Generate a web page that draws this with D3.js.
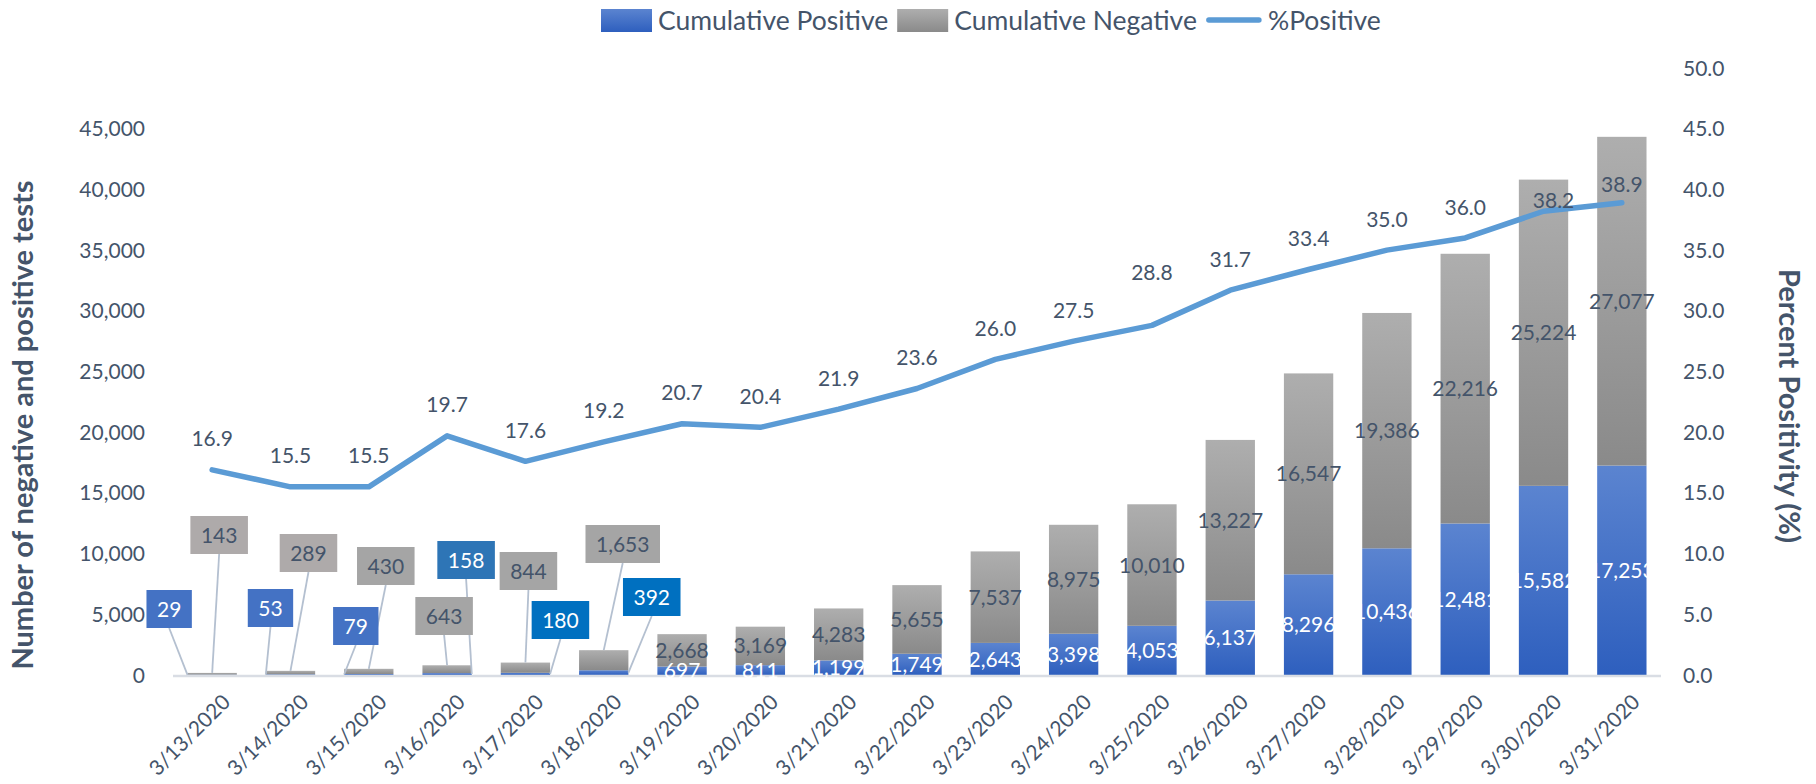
<!DOCTYPE html>
<html>
<head>
<meta charset="utf-8">
<script src="https://cdn.jsdelivr.net/npm/d3@7"></script>
<style>
  html, body { margin: 0; padding: 0; background: #fff; }
  svg text { font-family: Lato, "Open Sans", sans-serif; fill: #44546A; }
</style>
</head>
<body>
<svg id="chart" width="1816" height="784"></svg>
<script>
// cumulative test results by day
var dates = ["3/13/2020", "3/14/2020", "3/15/2020", "3/16/2020", "3/17/2020", "3/18/2020",
  "3/19/2020", "3/20/2020", "3/21/2020", "3/22/2020", "3/23/2020", "3/24/2020", "3/25/2020",
  "3/26/2020", "3/27/2020", "3/28/2020", "3/29/2020", "3/30/2020", "3/31/2020"];
var positive = [29, 53, 79, 158, 180, 392, 697, 811, 1199, 1749, 2643, 3398, 4053,
  6137, 8296, 10436, 12481, 15582, 17253];
var negative = [143, 289, 430, 643, 844, 1653, 2668, 3169, 4283, 5655, 7537, 8975, 10010,
  13227, 16547, 19386, 22216, 25224, 27077];
var pctPositive = [16.9, 15.5, 15.5, 19.7, 17.6, 19.2, 20.7, 20.4, 21.9, 23.6, 26.0, 27.5, 28.8,
  31.7, 33.4, 35.0, 36.0, 38.2, 38.9];
var leftTicks = [0, 5000, 10000, 15000, 20000, 25000, 30000, 35000, 40000, 45000];
var rightTicks = [0, 5, 10, 15, 20, 25, 30, 35, 40, 45, 50];

// the first six days are too small to label inside the bars, so they get callout boxes.
// offsets (px) of the box centre from the bar centre / baseline
var calloutPos = [[-43, -66], [-20, -67], [-13, -49], [19, -115], [35, -55], [48, -78]];
var calloutNeg = [[7, -140], [18, -122], [17, -109], [-3, -59], [3, -104], [19, -131]];
var calloutPosFill = ["#4472C4", "#4472C4", "#4472C4", "#2E75B6", "#0070C0", "#0070C0"];
var calloutNegFill = ["#AEAAAA", "#AEAAAA", "#A5A5A5", "#A5A5A5", "#A5A5A5", "#A5A5A5"];
// hand moved %positive labels: [dx, dy] added to the default spot
var pctNudge = {"3/25/2020": [0, -22], "3/30/2020": [10, 20], "3/31/2020": [0, 13]};

var svg = d3.select("#chart");
var textColor = "#44546A";
var baseY = 675, plotTop = 68;

var x = d3.scaleBand().domain(dates).range([173, 1661])
  .paddingInner(0.37).paddingOuter(0.185);
var yL = d3.scaleLinear().domain([0, 50000]).range([baseY, plotTop]);
var yR = d3.scaleLinear().domain([0, 50]).range([baseY, plotTop]);
var fmt = d3.format(",");

// gradients, lighter at the top of each segment
var defs = svg.append("defs");
function grad(id, c1, c2) {
  var g = defs.append("linearGradient").attr("id", id)
    .attr("x1", 0).attr("y1", 0).attr("x2", 0).attr("y2", 1);
  g.append("stop").attr("offset", "0%").attr("stop-color", c1);
  g.append("stop").attr("offset", "100%").attr("stop-color", c2);
}
grad("gPos", "#5B84D0", "#2E5FBE");
grad("gNeg", "#AEAEAE", "#8A8A8A");

var rows = dates.map(function(d, i) {
  return {date: d, i: i, pos: positive[i], neg: negative[i], pct: pctPositive[i]};
});

// bars
var bars = svg.append("g");
bars.selectAll("rect.pos").data(rows).enter().append("rect")
  .attr("x", function(d) { return x(d.date); })
  .attr("width", x.bandwidth())
  .attr("y", function(d) { return yL(d.pos); })
  .attr("height", function(d) { return baseY - yL(d.pos); })
  .attr("fill", "url(#gPos)");
bars.selectAll("rect.neg").data(rows).enter().append("rect")
  .attr("x", function(d) { return x(d.date); })
  .attr("width", x.bandwidth())
  .attr("y", function(d) { return yL(d.pos + d.neg); })
  .attr("height", function(d) { return yL(d.pos) - yL(d.pos + d.neg); })
  .attr("fill", "url(#gNeg)");

// baseline
svg.append("line")
  .attr("x1", x.range()[0]).attr("x2", x.range()[1])
  .attr("y1", baseY + 1).attr("y2", baseY + 1)
  .attr("stroke", "#D9DDE4").attr("stroke-width", 2.5);

// left axis labels
svg.append("g").selectAll("text").data(leftTicks).enter().append("text")
  .attr("x", 145).attr("y", function(d) { return yL(d); }).attr("dy", "0.36em")
  .attr("text-anchor", "end").style("font-size", "21px")
  .text(function(d) { return fmt(d); });

// right axis labels
svg.append("g").selectAll("text").data(rightTicks).enter().append("text")
  .attr("x", 1683).attr("y", function(d) { return yR(d); }).attr("dy", "0.36em")
  .style("font-size", "21px")
  .text(function(d) { return d.toFixed(1); });

// axis titles
svg.append("text")
  .attr("transform", "translate(23,425) rotate(-90)")
  .attr("text-anchor", "middle").attr("dy", "0.36em")
  .style("font-size", "29px").style("font-weight", "bold")
  .text("Number of negative and positive tests");
svg.append("text")
  .attr("transform", "translate(1789,406) rotate(90)")
  .attr("text-anchor", "middle").attr("dy", "0.36em")
  .style("font-size", "29px").style("font-weight", "bold")
  .text("Percent Positivity (%)");

// x labels
svg.append("g").selectAll("text").data(dates).enter().append("text")
  .attr("transform", function(d) {
    return "translate(" + (x(d) + x.bandwidth() / 2 + 14) + "," + (baseY + 23) + ") rotate(-45)";
  })
  .attr("text-anchor", "end").attr("dy", "0.36em")
  .style("font-size", "21px")
  .text(function(d) { return d; });

// %positive line
var line = d3.line()
  .x(function(d) { return x(d.date) + x.bandwidth() / 2; })
  .y(function(d) { return yR(d.pct); });
svg.append("path").datum(rows)
  .attr("d", line)
  .attr("fill", "none").attr("stroke", "#5B9BD5")
  .attr("stroke-width", 5.5).attr("stroke-linejoin", "round").attr("stroke-linecap", "round");

// in-bar labels from 3/19 on
var big = rows.filter(function(d) { return d.i >= 6; });
var lab = svg.append("g").style("font-size", "21px");
lab.selectAll("text.n").data(big).enter().append("text")
  .attr("x", function(d) { return x(d.date) + x.bandwidth() / 2; })
  .attr("y", function(d) { return yL(d.pos + d.neg / 2); }).attr("dy", "0.36em")
  .attr("text-anchor", "middle")
  .text(function(d) { return fmt(d.neg); });
lab.selectAll("text.p").data(big).enter().append("text")
  .attr("x", function(d) { return x(d.date) + x.bandwidth() / 2; })
  .attr("y", function(d) { return yL(d.pos / 2); }).attr("dy", "0.36em")
  .attr("text-anchor", "middle").style("fill", "#fff")
  .text(function(d) { return fmt(d.pos); });

// callouts for the first days
var small = rows.filter(function(d) { return d.i < 6; });
var call = svg.append("g");
function callout(d, off, fill, txtFill, value, ty) {
  var cx = x(d.date) + x.bandwidth() / 2;
  var bx = cx + off[0], by = baseY + off[1];
  var g = call.append("g");
  var t = g.append("text").attr("x", bx).attr("y", by).attr("dy", "0.36em")
    .attr("text-anchor", "middle").style("font-size", "21px").style("fill", txtFill)
    .text(fmt(value));
  var w = t.node().getComputedTextLength() + 21, h = 38;
  // leader line, from the box bottom to the segment
  var ex, ey;
  if (ty == "neg") { ex = cx; ey = yL(d.pos + d.neg); }
  else { ex = bx < cx ? x(d.date) : x(d.date) + x.bandwidth(); ey = yL(d.pos / 2); }
  call.insert("line", ":first-child")
    .attr("x1", bx).attr("y1", by + h / 2).attr("x2", ex).attr("y2", ey)
    .attr("stroke", "#B4C0D0").attr("stroke-width", 1.8);
  g.insert("rect", "text")
    .attr("x", bx - w / 2).attr("y", by - h / 2).attr("width", w).attr("height", h)
    .attr("fill", fill);
}
small.forEach(function(d) {
  callout(d, calloutNeg[d.i], calloutNegFill[d.i], textColor, d.neg, "neg");
  callout(d, calloutPos[d.i], calloutPosFill[d.i], "#fff", d.pos, "pos");
});

// %positive labels
svg.append("g").selectAll("text").data(rows).enter().append("text")
  .attr("x", function(d) {
    var n = pctNudge[d.date] || [0, 0];
    return x(d.date) + x.bandwidth() / 2 + n[0];
  })
  .attr("y", function(d) {
    var n = pctNudge[d.date] || [0, 0];
    return yR(d.pct) - 31 + n[1];
  })
  .attr("dy", "0.36em").attr("text-anchor", "middle").style("font-size", "21px")
  .text(function(d) { return d.pct.toFixed(1); });

// legend
var leg = svg.append("g").attr("transform", "translate(601,20)");
var items = [
  {name: "Cumulative Positive", kind: "rect", fill: "url(#gPos)"},
  {name: "Cumulative Negative", kind: "rect", fill: "url(#gNeg)"},
  {name: "%Positive", kind: "line"}
];
var cursor = 0;
items.forEach(function(it) {
  var g = leg.append("g").attr("transform", "translate(" + cursor + ",0)");
  var sw = it.kind == "rect" ? 51 : 56;
  if (it.kind == "rect") {
    g.append("rect").attr("x", 0).attr("y", -11).attr("width", sw).attr("height", 23).attr("fill", it.fill);
  } else {
    g.append("line").attr("x1", 3).attr("x2", sw - 3).attr("y1", 0).attr("y2", 0)
      .attr("stroke", "#5B9BD5").attr("stroke-width", 5.5).attr("stroke-linecap", "round");
  }
  var t = g.append("text").attr("x", sw + 6).attr("dy", "0.36em")
    .style("font-size", "26.5px").text(it.name);
  cursor += sw + 6 + t.node().getComputedTextLength() + 9;
});
</script>
</body>
</html>
